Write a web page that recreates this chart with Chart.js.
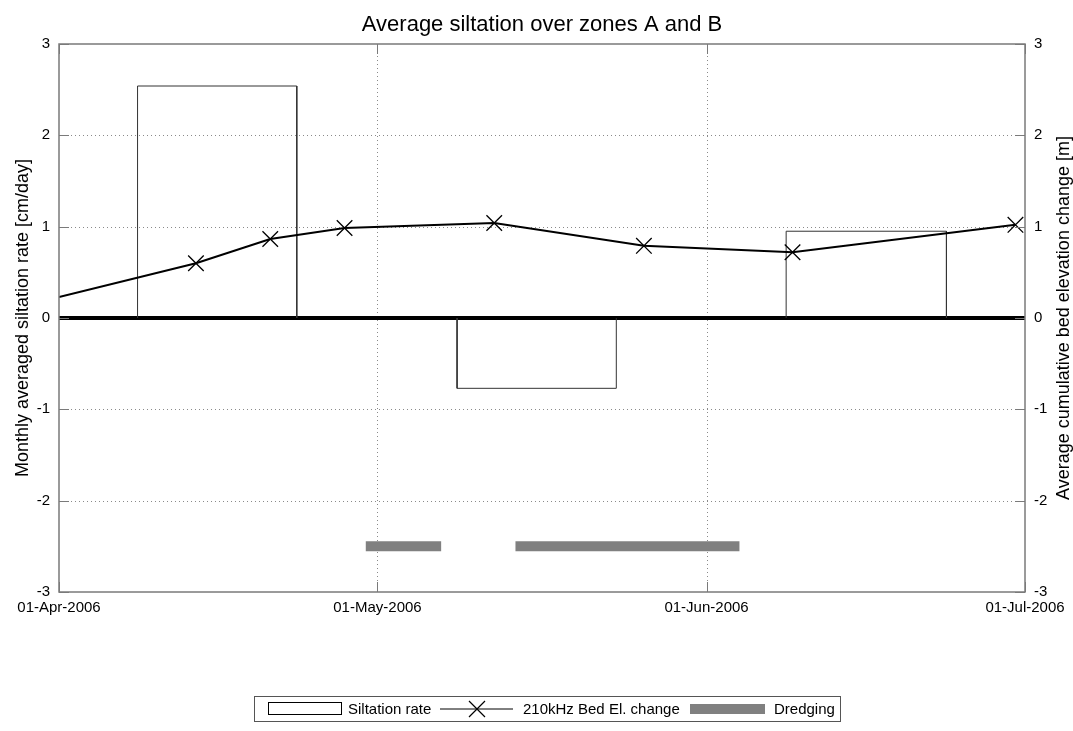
<!DOCTYPE html>
<html>
<head>
<meta charset="utf-8">
<script src="https://cdn.jsdelivr.net/npm/chart.js@4/dist/chart.umd.min.js"></script>
<style>
  html, body { margin: 0; padding: 0; background: #fff; }
  #wrap { width: 1073px; height: 731px; position: relative; }
</style>
</head>
<body>
<div id="wrap"><canvas id="c" width="1073" height="731"></canvas></div>
<script>
// ---- data (days counted from 01-Apr-2006) ----
const chartTitle = 'Average siltation over zones A and B';
const leftAxisTitle = 'Monthly averaged siltation rate [cm/day]';
const rightAxisTitle = 'Average cumulative bed elevation change [m]';
const xTickDays = [0, 30, 61, 91];
const xTickLabels = ['01-Apr-2006', '01-May-2006', '01-Jun-2006', '01-Jul-2006'];
const yTicks = [-3, -2, -1, 0, 1, 2, 3];

const siltStart = [7.4, 37.5, 68.5];
const siltEnd = [22.4, 52.5, 83.6];
const siltRate = [2.54, -0.77, 0.95];

const bedDays = [0, 12.9, 19.9, 26.9, 41.0, 55.1, 69.1, 90.1];
const bedChange = [0.23, 0.60, 0.865, 0.985, 1.04, 0.79, 0.72, 1.02];
const bedMarked = [false, true, true, true, true, true, true, true];

const dredgeStart = [28.9, 43.0];
const dredgeEnd = [36.0, 64.1];
const dredgeLevel = -2.5;

const legendLabels = ['Siltation rate', '210kHz Bed El. change', 'Dredging'];

// ---- datasets ----
const FONT = '"Liberation Sans", Arial, sans-serif';
const datasets = [];
datasets.push({
  label: legendLabels[1],
  data: bedDays.map((d, i) => ({ x: d, y: bedChange[i] })),
  borderColor: '#000',
  borderWidth: 2,
  pointStyle: 'crossRot',
  pointRadius: bedMarked.map(m => m ? 11 : 0),
  pointBorderColor: '#000',
  pointBorderWidth: 1.3,
  pointBackgroundColor: '#000',
  tension: 0,
  fill: false,
  order: 0
});
siltRate.forEach((v, i) => {
  datasets.push({
    label: legendLabels[0],
    data: [
      { x: siltStart[i], y: 0 }, { x: siltStart[i], y: v },
      { x: siltEnd[i], y: v }, { x: siltEnd[i], y: 0 }
    ],
    borderColor: '#333',
    borderWidth: 1,
    pointRadius: 0,
    tension: 0,
    fill: false,
    order: 2
  });
});
dredgeStart.forEach((s, i) => {
  datasets.push({
    label: legendLabels[2],
    data: [{ x: s, y: dredgeLevel }, { x: dredgeEnd[i], y: dredgeLevel }],
    borderColor: '#808080',
    borderWidth: 10,
    borderCapStyle: 'butt',
    pointRadius: 0,
    fill: false,
    order: 1
  });
});

// ---- custom drawing plugin ----
const decor = {
  id: 'decor',
  beforeDatasetsDraw(chart) {
    const { ctx, chartArea: a, scales } = chart;
    const x = scales.x, y = scales.y;
    ctx.save();
    ctx.strokeStyle = '#8a8a8a';
    ctx.lineWidth = 1;
    ctx.setLineDash([1, 3]);
    xTickDays.slice(1, -1).forEach(d => {
      const px = Math.round(x.getPixelForValue(d)) + 0.5;
      ctx.beginPath(); ctx.moveTo(px, a.top); ctx.lineTo(px, a.bottom); ctx.stroke();
    });
    yTicks.filter(v => v !== 0 && v !== yTicks[0] && v !== yTicks[yTicks.length - 1]).forEach(v => {
      const py = Math.round(y.getPixelForValue(v)) + 0.5;
      ctx.beginPath(); ctx.moveTo(a.left, py); ctx.lineTo(a.right, py); ctx.stroke();
    });
    ctx.setLineDash([]);
    // zero line
    const z = y.getPixelForValue(0);
    ctx.strokeStyle = '#000';
    ctx.lineWidth = 4;
    ctx.beginPath(); ctx.moveTo(a.left, z); ctx.lineTo(a.right, z); ctx.stroke();
    ctx.restore();
  },
  afterDatasetsDraw(chart) {
    const { ctx, chartArea: a, scales } = chart;
    const x = scales.x, y = scales.y;
    ctx.save();
    ctx.strokeStyle = '#7a7a7a';
    ctx.lineWidth = 1.5;
    ctx.strokeRect(a.left, a.top, a.right - a.left, a.bottom - a.top);
    const tl = 10;
    ctx.lineWidth = 1;
    xTickDays.forEach(d => {
      const px = Math.round(x.getPixelForValue(d)) + 0.5;
      ctx.beginPath(); ctx.moveTo(px, a.bottom); ctx.lineTo(px, a.bottom - tl); ctx.stroke();
      ctx.beginPath(); ctx.moveTo(px, a.top); ctx.lineTo(px, a.top + tl); ctx.stroke();
    });
    yTicks.forEach(v => {
      const py = Math.round(y.getPixelForValue(v)) + 0.5;
      ctx.beginPath(); ctx.moveTo(a.left, py); ctx.lineTo(a.left + tl, py); ctx.stroke();
      ctx.beginPath(); ctx.moveTo(a.right, py); ctx.lineTo(a.right - tl, py); ctx.stroke();
    });
    ctx.restore();
  },
  afterDraw(chart) {
    const { ctx, chartArea: a } = chart;
    ctx.save();
    ctx.fillStyle = '#000';
    // title
    ctx.font = '22px ' + FONT;
    ctx.textAlign = 'center';
    ctx.textBaseline = 'alphabetic';
    ctx.fillText(chartTitle, (a.left + a.right) / 2, 31);
    // axis titles
    const cy = (a.top + a.bottom) / 2;
    ctx.font = '18px ' + FONT;
    ctx.save();
    ctx.translate(28, cy); ctx.rotate(-Math.PI / 2);
    ctx.fillText(leftAxisTitle, 0, 0);
    ctx.restore();
    ctx.save();
    ctx.translate(1069, cy); ctx.rotate(-Math.PI / 2);
    ctx.fillText(rightAxisTitle, 0, 0);
    ctx.restore();
    // legend
    const bx = 254.5, by = 696.5, bw = 586, bh = 25;
    ctx.fillStyle = '#fff';
    ctx.fillRect(bx, by, bw, bh);
    ctx.strokeStyle = '#555';
    ctx.lineWidth = 1;
    ctx.strokeRect(bx, by, bw, bh);
    const my = by + bh / 2;
    ctx.strokeStyle = '#000';
    ctx.strokeRect(268.5, 702.5, 73, 12);
    ctx.fillStyle = '#000';
    ctx.font = '15px ' + FONT;
    ctx.textAlign = 'left';
    ctx.textBaseline = 'middle';
    ctx.fillText(legendLabels[0], 348, my + 1);
    ctx.lineWidth = 1;
    ctx.beginPath(); ctx.moveTo(440, my); ctx.lineTo(513, my); ctx.stroke();
    const mx = 477, r = 8;
    ctx.lineWidth = 1.2;
    ctx.beginPath();
    ctx.moveTo(mx - r, my - r); ctx.lineTo(mx + r, my + r);
    ctx.moveTo(mx - r, my + r); ctx.lineTo(mx + r, my - r);
    ctx.stroke();
    ctx.fillText(legendLabels[1], 523, my + 1);
    ctx.fillStyle = '#808080';
    ctx.fillRect(690, my - 5, 75, 10);
    ctx.fillStyle = '#000';
    ctx.fillText(legendLabels[2], 774, my + 1);
    ctx.restore();
  }
};

new Chart(document.getElementById('c'), {
  type: 'line',
  data: { datasets },
  plugins: [decor],
  options: {
    responsive: false,
    animation: false,
    devicePixelRatio: 1,
    layout: { padding: { top: 44, bottom: 109, left: 0, right: 0 } },
    plugins: { legend: { display: false }, tooltip: { enabled: false }, title: { display: false } },
    scales: {
      x: {
        type: 'linear',
        min: xTickDays[0],
        max: xTickDays[xTickDays.length - 1],
        afterBuildTicks: s => { s.ticks = xTickDays.map(v => ({ value: v })); },
        afterFit: s => { s.height = 30; },
        grid: { display: false, drawTicks: false },
        border: { display: false },
        ticks: {
          autoSkip: false, maxRotation: 0, padding: 7, color: '#000',
          font: { family: FONT, size: 15 },
          callback: v => xTickLabels[xTickDays.indexOf(v)]
        }
      },
      y: {
        position: 'left',
        min: yTicks[0], max: yTicks[yTicks.length - 1],
        afterBuildTicks: s => { s.ticks = yTicks.map(v => ({ value: v })); },
        afterFit: s => { s.width = 59; },
        grid: { display: false, drawTicks: false },
        border: { display: false },
        ticks: { padding: 9, color: '#000', font: { family: FONT, size: 15 } }
      },
      y2: {
        position: 'right',
        min: yTicks[0], max: yTicks[yTicks.length - 1],
        afterBuildTicks: s => { s.ticks = yTicks.map(v => ({ value: v })); },
        afterFit: s => { s.width = 48; },
        grid: { display: false, drawTicks: false },
        border: { display: false },
        ticks: { padding: 9, color: '#000', font: { family: FONT, size: 15 } }
      }
    }
  }
});
</script>
</body>
</html>
